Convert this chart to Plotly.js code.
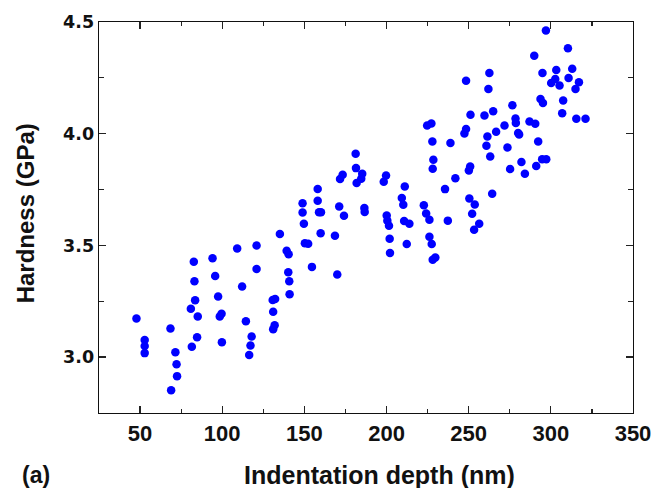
<!DOCTYPE html>
<html>
<head>
<meta charset="utf-8">
<script src="https://cdn.plot.ly/plotly-3.0.1.min.js"></script>
<style>html,body{margin:0;padding:0;background:#fff;}#chart{width:669px;height:488px;}</style>
</head>
<body>
<div id="chart"></div>
<script>
// Indentation depth (nm)
const depth = [47.8, 52.8, 52.8, 52.8, 68.5, 71.5, 72.2, 72.5, 68.9, 80.9,
  81.5, 82.7, 83.1, 83.5, 85.1, 84.7, 94.1, 95.7, 97.5, 98.5,
  99.6, 99.8, 109.1, 112.1, 114.4, 117.9, 117.2, 116.4, 120.9, 120.9,
  130.7, 132.2, 131.0, 131.9, 131.0, 139.2, 140.4, 140.2, 140.8, 141.0,
  150.3, 152.3, 154.6, 170.0, 135.1, 148.9, 148.9, 149.7, 158.1, 158.1,
  158.9, 160.1, 159.9, 168.6, 171.2,
  297.0, 310.4, 289.9, 294.9, 303.3, 313.0, 262.6, 248.4, 262.0, 300.2,
  302.7, 305.3, 310.8, 317.1, 315.0, 293.7, 295.2, 307.5, 306.9, 315.5,
  321.1, 276.6, 264.9, 251.1, 259.6, 278.5, 278.7, 287.0, 290.5, 271.8,
  266.7, 248.4, 247.4, 280.1, 280.7, 261.4, 224.7, 227.3, 227.9, 238.9,
  260.8, 273.6, 292.3, 181.2, 263.1, 228.5, 228.1, 181.4, 173.3, 171.7,
  185.2, 184.6, 181.8, 199.7, 198.3, 211.1, 294.7, 297.2, 282.1, 291.1,
  275.2, 284.2, 250.9, 250.1, 241.9, 235.6, 264.3, 250.4, 253.7, 252.1,
  256.4, 253.3, 209.3, 210.2, 222.7, 224.1, 226.1, 237.3, 210.7, 213.9,
  200.1, 200.5, 201.5, 201.9, 212.3, 226.1, 227.5, 186.5, 186.7, 174.1,
  202.1, 228.1, 229.7];
// Hardness (GPa)
const hardness = [3.173, 3.077, 3.050, 3.018, 3.128, 3.022, 2.968, 2.915, 2.852, 3.217,
  3.047, 3.427, 3.340, 3.255, 3.182, 3.089, 3.443, 3.363, 3.271, 3.182,
  3.194, 3.067, 3.486, 3.316, 3.161, 3.092, 3.052, 3.010, 3.500, 3.395,
  3.256, 3.260, 3.203, 3.143, 3.125, 3.476, 3.461, 3.380, 3.340, 3.282,
  3.510, 3.507, 3.404, 3.370, 3.551, 3.689, 3.647, 3.597, 3.753, 3.700,
  3.649, 3.649, 3.555, 3.543, 3.674,
  4.462, 4.382, 4.349, 4.272, 4.285, 4.291, 4.272, 4.237, 4.200, 4.227,
  4.245, 4.216, 4.249, 4.230, 4.200, 4.155, 4.137, 4.149, 4.092, 4.067,
  4.067, 4.127, 4.101, 4.085, 4.082, 4.068, 4.048, 4.055, 4.045, 4.037,
  4.009, 4.021, 4.001, 4.003, 3.997, 3.988, 4.037, 4.046, 3.965, 3.958,
  3.946, 3.938, 3.965, 3.910, 3.898, 3.883, 3.843, 3.846, 3.816, 3.797,
  3.821, 3.798, 3.779, 3.813, 3.785, 3.764, 3.886, 3.886, 3.873, 3.855,
  3.842, 3.821, 3.853, 3.835, 3.801, 3.752, 3.731, 3.710, 3.683, 3.642,
  3.597, 3.570, 3.712, 3.682, 3.680, 3.643, 3.615, 3.611, 3.609, 3.597,
  3.634, 3.611, 3.588, 3.530, 3.506, 3.539, 3.506, 3.667, 3.650, 3.633,
  3.466, 3.436, 3.446];

const xTitle = 'Indentation depth (nm)';
const yTitle = 'Hardness (GPa)';
const panelLabel = '(a)';

const axisCommon = {
  showgrid: false, zeroline: false, showline: true, linecolor: '#111', linewidth: 1.4,
  mirror: 'ticks', ticks: 'inside', ticklen: 7, tickwidth: 1.3, tickcolor: '#222'
};

const layout = {
  width: 669, height: 488,
  margin: {l: 99, r: 36, t: 22, b: 75, pad: 0},
  paper_bgcolor: '#fff', plot_bgcolor: '#fff',
  showlegend: false,
  xaxis: Object.assign({}, axisCommon, {
    range: [25, 350], dtick: 50, tick0: 0,
    minor: {dtick: 25, ticks: 'inside', ticklen: 4, tickwidth: 1.2, tickcolor: '#222'},
    tickfont: {family: 'Liberation Sans, Arial, sans-serif', size: 22, color: '#111', weight: 'bold'}
  }),
  yaxis: Object.assign({}, axisCommon, {
    range: [2.75, 4.5], dtick: 0.5, tick0: 0, tickformat: '.1f',
    minor: {dtick: 0.25, ticks: 'inside', ticklen: 5, tickwidth: 1.2, tickcolor: '#222'},
    tickfont: {family: 'DejaVu Sans, sans-serif', size: 17.5, color: '#111', weight: 'bold'}
  }),
  annotations: [
    {text: xTitle, xref: 'paper', yref: 'paper', x: 0.5244, y: -0.158, xanchor: 'center', yanchor: 'middle',
     showarrow: false, font: {family: 'Liberation Sans, Arial, sans-serif', size: 25, color: '#111', weight: 'bold'}},
    {text: yTitle, xref: 'paper', yref: 'paper', x: -0.1374, y: 0.5097, xanchor: 'center', yanchor: 'middle',
     textangle: -90, showarrow: false, font: {family: 'Liberation Sans, Arial, sans-serif', size: 24, color: '#111', weight: 'bold'}},
    {text: panelLabel, xref: 'paper', yref: 'paper', x: -0.1187, y: -0.158, xanchor: 'center', yanchor: 'middle',
     showarrow: false, font: {family: 'Liberation Sans, Arial, sans-serif', size: 23, color: '#111', weight: 'bold'}}
  ]
};

const data = [{
  type: 'scatter', mode: 'markers', x: depth, y: hardness,
  marker: {color: '#0000FF', size: 8.5, line: {width: 0}},
  hoverinfo: 'x+y'
}];

Plotly.newPlot('chart', data, layout, {displayModeBar: false, staticPlot: true});
</script>
</body>
</html>
